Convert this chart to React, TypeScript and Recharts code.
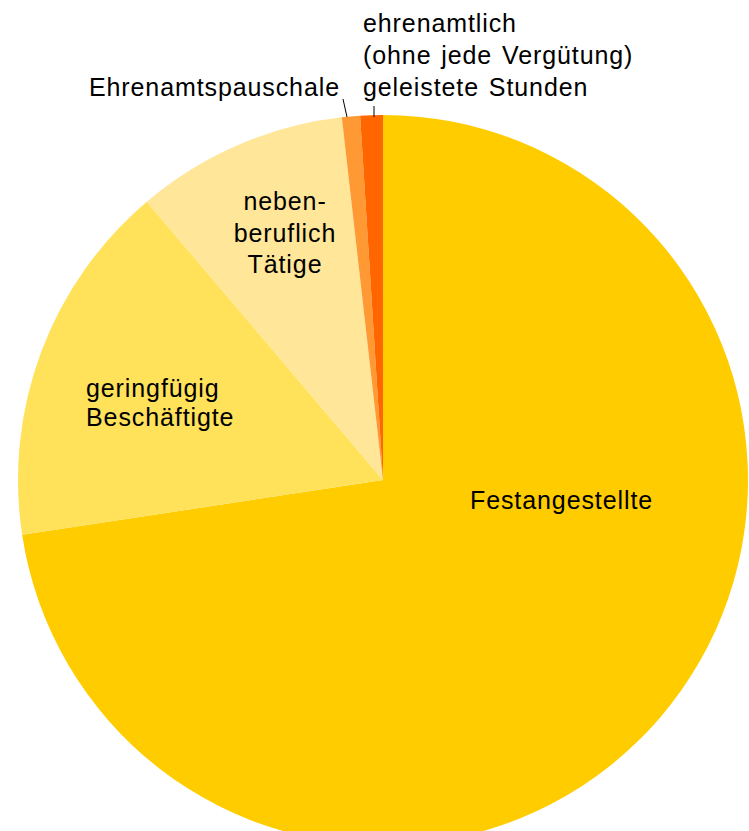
import { PieChart, Pie, Cell } from 'recharts'

if (typeof document !== 'undefined') {
    document.body.style.margin = '0'
}

// Anteile am Personal (Prozent), im Uhrzeigersinn ab 12 Uhr
const categories = [
    'Festangestellte',
    'geringfügig Beschäftigte',
    'nebenberuflich Tätige',
    'Ehrenamtspauschale',
    'ehrenamtlich (ohne jede Vergütung) geleistete Stunden',
]
const shares = [72.6, 16.2, 9.4, 0.8, 1.0]
const colors = ['#FFCC00', '#FFE15A', '#FFE699', '#FF9933', '#FF6600']
const labelLines = [
    ['Festangestellte'],
    ['geringfügig', 'Beschäftigte'],
    ['neben-', 'beruflich', 'Tätige'],
    ['Ehrenamtspauschale'],
    ['ehrenamtlich', '(ohne jede Vergütung)', 'geleistete Stunden'],
]

const data = categories.map((name, i) => ({ name, value: shares[i] }))

// label placement relative to pie centre
const placement: Record<number, { dx: number; dy: number; anchor: 'start' | 'middle' | 'end'; lh: number; leader?: [number, number, number, number] }> = {
    0: { dx: 87, dy: 29, anchor: 'start', lh: 31 },
    1: { dx: -297, dy: -83, anchor: 'start', lh: 29 },
    2: { dx: -98, dy: -270, anchor: 'middle', lh: 31.5 },
    3: { dx: -43, dy: -384, anchor: 'end', lh: 31, leader: [-40, -381, -36, -363] },
    4: { dx: -20, dy: -448, anchor: 'start', lh: 32, leader: [-9, -374, -9, -363] },
}

const FONT = '"Liberation Sans", Arial, sans-serif'

function renderLabel(props: any) {
    const { cx, cy, index } = props
    const p = placement[index]
    if (!p) return null
    return (
        <g key={`lbl-${index}`}>
            {p.leader && (
                <line
                    x1={cx + p.leader[0]}
                    y1={cy + p.leader[1]}
                    x2={cx + p.leader[2]}
                    y2={cy + p.leader[3]}
                    stroke="#000"
                    strokeWidth={1}
                />
            )}
            {labelLines[index].map((line, j) => (
                <text
                    key={j}
                    x={cx + p.dx}
                    y={cy + p.dy + j * p.lh}
                    textAnchor={p.anchor}
                    fill="#000"
                    fontFamily={FONT}
                    fontSize={25}
                    letterSpacing={0.9}
                    wordSpacing={index === 4 ? 2 : 0}
                >
                    {line}
                </text>
            ))}
        </g>
    )
}

export default function App() {
    return (
        <div style={{ width: 749, height: 831, background: '#fff', overflow: 'hidden' }}>
            <PieChart width={749} height={831} margin={{ top: 0, right: 0, bottom: 0, left: 0 }}>
                <Pie
                    data={data}
                    dataKey="value"
                    nameKey="name"
                    cx={383}
                    cy={480}
                    outerRadius={365}
                    startAngle={90}
                    endAngle={-270}
                    stroke="none"
                    labelLine={false}
                    label={renderLabel}
                    isAnimationActive={false}
                >
                    {data.map((entry, index) => (
                        <Cell key={`cell-${index}`} fill={colors[index]} />
                    ))}
                </Pie>
            </PieChart>
        </div>
    )
}
